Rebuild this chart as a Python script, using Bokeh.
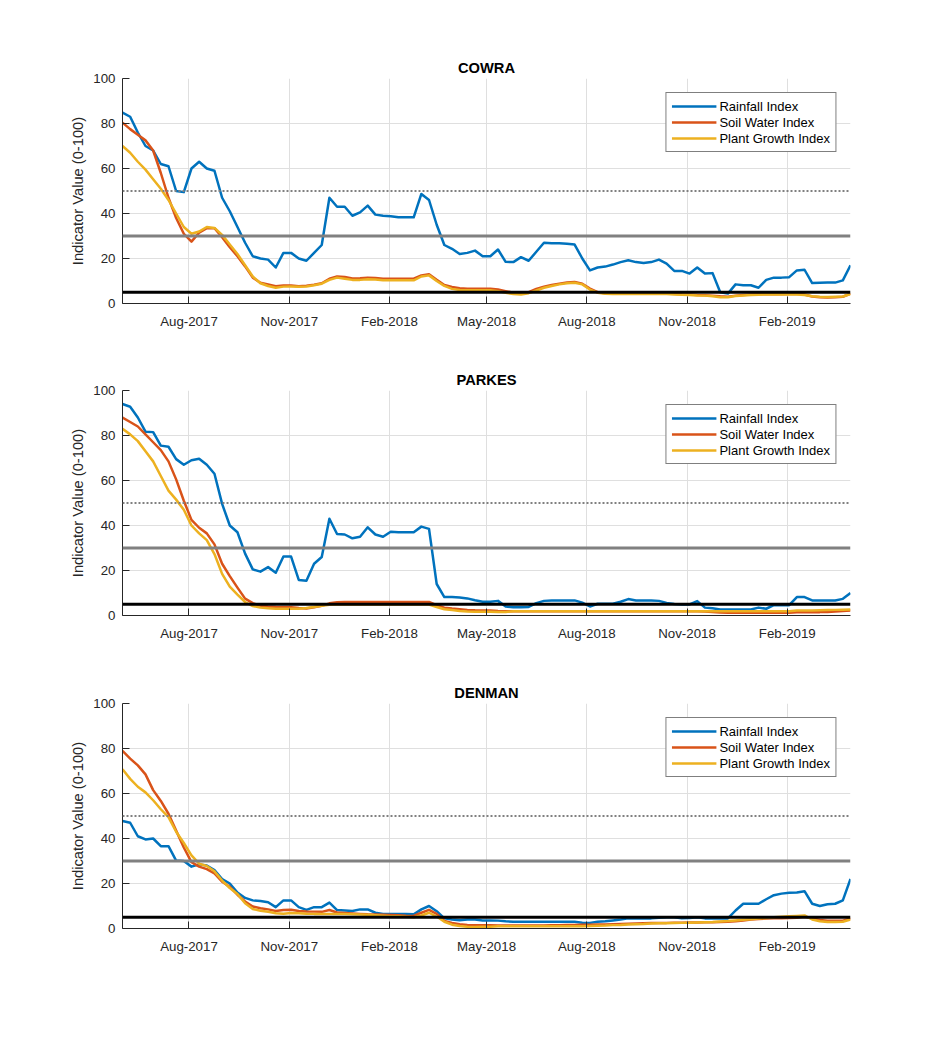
import pandas as pd
from bokeh.plotting import figure
from bokeh.layouts import column
from bokeh.models import (FixedTicker, Span, Legend, LegendItem, Range1d,
                          DatetimeTickFormatter)
from bokeh.embed import file_html
from bokeh.resources import INLINE

# ---------------------------------------------------------------- data
STATIONS = ["COWRA", "PARKES", "DENMAN"]
SERIES = ["Rainfall Index", "Soil Water Index", "Plant Growth Index"]
COLORS = ["#0072BD", "#D95319", "#EDB120"]
THRESHOLDS = [50, 30, 5]
Y_TICKS = [0, 20, 40, 60, 80, 100]
TICK_DATES = ["2017-08-01", "2017-11-01", "2018-02-01", "2018-05-01",
              "2018-08-01", "2018-11-01", "2019-02-01"]
START, END = "2017-06-01", "2019-03-31"

# weekly samples of each index
WEEKS = pd.date_range(START, END, periods=96)

COWRA_RAIN = [
    84.8, 83, 76, 70, 68, 62, 61, 50, 49.5, 60, 63, 60,
    59, 47, 41, 34, 27, 21, 20, 19.5, 16, 22.5, 22.5, 20,
    19, 22.5, 26, 47, 43, 43, 39, 40.5, 43.5, 39.5, 39, 38.8,
    38.3, 38.3, 38.3, 48.7, 46, 35, 26, 24.3, 22, 22.5, 23.5, 21,
    21, 24, 18.5, 18.4, 20.6, 19, 23, 27, 26.8, 26.8, 26.6, 26.2,
    20, 14.7, 16, 16.4, 17.3, 18.4, 19.2, 18.4, 18, 18.4, 19.5, 17.7,
    14.5, 14.5, 13.3, 16, 13.3, 13.5, 5, 4.4, 8.5, 8.1, 8.1, 7,
    10.5, 11.5, 11.5, 11.7, 14.7, 15, 9.1, 9.2, 9.3, 9.3, 10.3, 17,
]
COWRA_SOIL = [
    80.4, 77.5, 75, 72.5, 68, 58, 47, 38, 31, 27.5, 31.5, 33.5,
    33.5, 29.5, 25, 21, 16.5, 11.5, 9.2, 8.5, 7.7, 8, 8, 7.7,
    7.9, 8.3, 9, 11, 12, 11.8, 11.1, 11.2, 11.5, 11.3, 11, 11,
    11, 11, 11, 12.5, 13, 10.5, 8.2, 7.3, 6.8, 6.6, 6.6, 6.6,
    6.6, 6.2, 5.5, 4.8, 4.4, 5, 6.5, 7.5, 8.2, 8.8, 9.3, 9.6,
    8.8, 6.6, 5, 4.5, 4.4, 4.4, 4.4, 4.4, 4.4, 4.4, 4.4, 4.4,
    4.3, 4.1, 4, 3.8, 3.7, 3.5, 3.2, 3, 3.5, 3.8, 4, 4.1,
    4.1, 4.1, 4.1, 4.2, 4.3, 4, 3.1, 2.8, 2.7, 2.8, 3, 4.4,
]
COWRA_PLANT = [
    70, 67, 63, 59.5, 55.2, 51, 46, 40, 34, 31, 32, 34,
    33.6, 30.5, 26.2, 22, 17, 12, 9, 7.8, 7, 7.5, 7.6, 7.4,
    7.6, 8.1, 8.8, 10.5, 11.5, 11, 10.5, 10.5, 10.8, 10.7, 10.3, 10.3,
    10.3, 10.3, 10.3, 12, 12.5, 10, 7.8, 6.5, 6, 5.9, 5.9, 5.9,
    5.9, 5.5, 4.8, 4.2, 4, 4.6, 5.8, 7, 7.8, 8.5, 9, 9.2,
    8.5, 6.2, 4.8, 4.3, 4.2, 4.2, 4.2, 4.2, 4.2, 4.2, 4.2, 4.2,
    4, 3.9, 3.8, 3.6, 3.5, 3.2, 2.8, 2.8, 3.3, 3.6, 3.8, 3.9,
    4, 4, 4, 4, 4, 3.8, 3.2, 3, 2.9, 3, 3.1, 4.2,
]

PARKES_RAIN = [
    94, 92.8, 88, 81.7, 81.5, 75.5, 75, 69.5, 67, 69, 69.7, 67,
    63, 49.6, 40, 37, 27.5, 20.5, 19.5, 21.5, 19, 26.2, 26.2, 15.8,
    15.4, 23, 26, 43, 36.2, 36, 34.3, 35, 39.2, 36, 35, 37.2,
    37, 37, 37, 39.5, 38.5, 14, 8.2, 8.2, 8, 7.6, 6.8, 6.1,
    6.1, 6.5, 4, 3.7, 3.7, 3.8, 5.5, 6.5, 6.7, 6.7, 6.7, 6.7,
    5.7, 4, 5.2, 5.2, 5.2, 6.1, 7.3, 6.7, 6.7, 6.7, 6.5, 5.6,
    5.1, 4.9, 4.9, 6.4, 3.5, 3.2, 2.7, 2.7, 2.7, 2.7, 2.7, 3.5,
    3, 4.6, 4.6, 4.6, 8.2, 8.2, 6.7, 6.7, 6.7, 6.7, 7.4, 10,
]
PARKES_SOIL = [
    88, 86, 84, 80.5, 77, 73.5, 68.5, 60.5, 51, 42.5, 39, 36.5,
    31.6, 23, 17.5, 12.4, 7.5, 5.5, 4.3, 4, 3.8, 3.7, 3.7, 3.3,
    3.1, 3.7, 4.3, 5.4, 5.9, 6, 6, 6, 6, 6, 6, 6,
    6, 6, 6, 6, 6, 4.6, 3.5, 3.1, 2.8, 2.5, 2.3, 2.2,
    2.2, 2, 1.9, 1.9, 1.9, 1.9, 1.9, 1.9, 1.9, 1.9, 1.9, 1.9,
    1.9, 1.9, 1.9, 1.9, 1.9, 1.9, 1.9, 1.9, 1.9, 1.9, 1.9, 1.9,
    1.9, 1.9, 1.9, 1.9, 1.8, 1.5, 1.3, 1.2, 1.2, 1.2, 1.2, 1.2,
    1.2, 1.2, 1.2, 1.2, 1.4, 1.4, 1.5, 1.5, 1.6, 1.8, 2, 2.2,
]
PARKES_PLANT = [
    83, 80.5, 77.5, 73, 68.5, 62, 55.5, 51.5, 47, 40, 36.5, 33.5,
    27.3, 18.5, 12.8, 9.3, 6, 4.2, 3.5, 3.2, 3, 3, 3, 3,
    3.3, 3.8, 4.3, 4.8, 4.9, 4.9, 4.9, 4.9, 4.9, 4.9, 4.9, 4.9,
    4.9, 4.9, 4.9, 4.9, 4.9, 3.8, 2.8, 2.4, 2, 1.8, 1.7, 1.7,
    1.7, 1.6, 1.6, 1.9, 1.9, 1.9, 1.9, 1.9, 1.9, 1.9, 1.9, 1.9,
    1.9, 1.9, 1.9, 1.9, 1.9, 1.9, 1.9, 1.9, 1.9, 1.9, 1.9, 1.9,
    1.9, 1.9, 1.9, 1.9, 1.9, 1.9, 1.9, 1.9, 1.9, 1.9, 1.9, 1.9,
    1.9, 1.9, 1.9, 1.9, 2.2, 2.2, 2.2, 2.3, 2.4, 2.5, 2.6, 2.7,
]

DENMAN_RAIN = [
    47.8, 47, 41, 39.6, 40, 36.6, 36.6, 30.2, 30, 27.5, 28.5, 28,
    26, 22, 20, 16, 13.6, 12.5, 12.2, 11.7, 9.5, 12.5, 12.5, 9.5,
    8.3, 9.5, 9.5, 11.5, 8.2, 8, 7.8, 8.5, 8.5, 7, 6.5, 6.5,
    6.5, 6.5, 6.3, 8.5, 10, 7.7, 4.5, 4, 3.7, 4, 4, 3.6,
    3.6, 3.5, 3.2, 3, 3, 3, 3, 3, 3, 3, 3, 3,
    2.6, 2.5, 3, 3.2, 3.6, 4, 4.5, 4.5, 4.5, 4.5, 4.8, 5,
    5, 4.5, 4.7, 5, 4.5, 4.5, 4.5, 4.5, 8, 11, 11, 11,
    13, 14.8, 15.5, 15.9, 16, 16.6, 11, 10, 10.8, 11, 12.5, 22,
]
DENMAN_SOIL = [
    79, 75.5, 72.5, 68.5, 61.5, 56.7, 51, 43.5, 36, 29.5, 27.5, 26.4,
    24.5, 20.8, 18.5, 15, 12, 9.8, 9, 8.5, 7.8, 8.2, 8.3, 7.8,
    7.6, 7.5, 7.4, 8.2, 7.1, 6.9, 6.7, 6.5, 6.3, 6.2, 6.1, 6,
    5.9, 5.7, 5.6, 7, 8.3, 6.5, 3.4, 2.5, 1.9, 1.6, 1.5, 1.4,
    1.4, 1.3, 1.3, 1.3, 1.3, 1.3, 1.3, 1.3, 1.5, 1.5, 1.6, 1.6,
    1.7, 1.7, 1.8, 1.8, 1.9, 2, 2.1, 2.2, 2.3, 2.4, 2.5, 2.5,
    2.6, 2.6, 2.7, 2.7, 2.8, 2.8, 2.9, 3, 3.2, 3.6, 4, 4.2,
    4.4, 4.5, 4.6, 4.7, 4.8, 5.2, 4.6, 3.8, 3.4, 3.4, 3.5, 4.5,
]
DENMAN_PLANT = [
    70.8, 66.5, 63, 60.5, 57, 53, 49.5, 43, 38, 32.5, 28.8, 27.8,
    25.4, 21.3, 18, 15.3, 11.2, 8.7, 7.9, 7.4, 6.8, 6.6, 6.9, 6.8,
    6.6, 6.5, 6.5, 6.5, 6.5, 6.4, 6.3, 6.2, 6.1, 5.9, 5.7, 5.5,
    5.4, 5.2, 5, 5.8, 7, 5.3, 3, 1.7, 1.1, 0.8, 0.7, 0.8,
    0.8, 1, 1, 1, 1, 1, 1, 1, 1, 1, 1, 1,
    1, 1.1, 1.2, 1.3, 1.5, 1.6, 1.8, 1.9, 2, 2.2, 2.3, 2.3,
    2.4, 2.5, 2.6, 2.7, 2.8, 2.9, 3.1, 3.3, 3.6, 3.9, 4.1, 4.4,
    4.7, 5, 5.2, 5.4, 5.6, 5.8, 4, 3.2, 2.9, 2.9, 3, 4,
]

STATION_DATA = {
    "COWRA": (COWRA_RAIN, COWRA_SOIL, COWRA_PLANT),
    "PARKES": (PARKES_RAIN, PARKES_SOIL, PARKES_PLANT),
    "DENMAN": (DENMAN_RAIN, DENMAN_SOIL, DENMAN_PLANT),
}
for name, arrays in STATION_DATA.items():
    for arr in arrays:
        assert len(arr) == len(WEEKS), (name, len(arr))

# ---------------------------------------------------------------- style
FONT = "Liberation Sans"
AXIS_COLOR = "#262626"
GRID_COLOR = "#dfdfdf"
THRESHOLD_STYLES = [
    dict(line_color="#808080", line_width=2, line_dash="2 2"),
    dict(line_color="#808080", line_width=3),
    dict(line_color="#000000", line_width=3),
]
TICK_MS = [pd.Timestamp(d).value / 1e6 for d in TICK_DATES]


def station_figure(name, top_border):
    p = figure(
        x_axis_type="datetime",
        x_range=Range1d(WEEKS[0], WEEKS[-1]),
        y_range=Range1d(0, 100),
        frame_width=728, frame_height=225,
        min_border_left=122, min_border_right=88,
        min_border_top=top_border, min_border_bottom=40,
        output_backend="svg", toolbar_location=None,
        background_fill_color="white", border_fill_color="white",
        title=name,
    )
    p.outline_line_color = None

    p.title.align = "center"
    p.title.text_font = FONT
    p.title.text_font_size = "14.7px"
    p.title.text_font_style = "bold"
    p.title.text_color = "black"
    p.title.standoff = 6

    p.xaxis.ticker = FixedTicker(ticks=TICK_MS, minor_ticks=[])
    fmt = "%b-%Y"
    p.xaxis.formatter = DatetimeTickFormatter(
        days=fmt, months=fmt, years=fmt, hours=fmt, minutes=fmt,
        hourmin=fmt, seconds=fmt, minsec=fmt, milliseconds=fmt,
        microseconds=fmt)
    p.yaxis.ticker = FixedTicker(ticks=Y_TICKS, minor_ticks=[])
    p.yaxis.axis_label = "Indicator Value (0-100)"

    for ax in (p.xaxis[0], p.yaxis[0]):
        ax.major_tick_in = 7
        ax.major_tick_out = 0
        ax.minor_tick_in = 0
        ax.minor_tick_out = 0
        ax.axis_line_color = AXIS_COLOR
        ax.major_tick_line_color = AXIS_COLOR
        ax.major_label_text_font = FONT
        ax.major_label_text_font_size = "13.3px"
        ax.major_label_text_color = AXIS_COLOR
    p.xaxis.major_label_standoff = 10
    p.yaxis.major_label_standoff = 7
    p.yaxis.axis_label_text_font = FONT
    p.yaxis.axis_label_text_font_size = "14.7px"
    p.yaxis.axis_label_text_font_style = "normal"
    p.yaxis.axis_label_text_color = AXIS_COLOR
    p.yaxis.axis_label_standoff = 4

    p.xgrid.grid_line_color = GRID_COLOR
    p.ygrid.grid_line_color = GRID_COLOR

    renderers = []
    for values, color in zip(STATION_DATA[name], COLORS):
        renderers.append(p.line(WEEKS, values, line_color=color, line_width=2.5,
                                line_join="round"))

    for level, style in zip(THRESHOLDS, THRESHOLD_STYLES):
        p.add_layout(Span(location=level, dimension="width", **style))

    legend = Legend(
        items=[LegendItem(label=s, renderers=[r]) for s, r in zip(SERIES, renderers)],
        location="top_right", margin=14, padding=5, spacing=0,
        glyph_width=45, glyph_height=16, label_height=16, label_standoff=3,
        border_line_color="black", border_line_width=1,
        background_fill_color="white", background_fill_alpha=1,
        label_text_font=FONT, label_text_font_size="13px",
        label_text_color="black",
    )
    p.add_layout(legend)
    return p


figs = [station_figure(n, t) for n, t in zip(STATIONS, [78, 47, 48])]
layout = column(*figs)
open("out.html", "w").write(file_html(layout, INLINE))
